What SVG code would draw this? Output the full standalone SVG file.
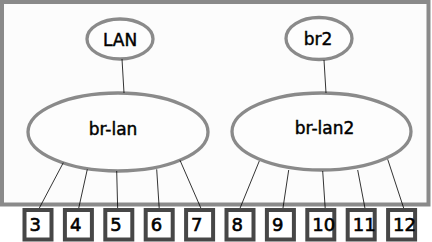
<svg xmlns="http://www.w3.org/2000/svg" width="432" height="242" viewBox="0 0 432 242">
<style>
.frame{fill:#fcfcfc;stroke:#8a8a8a;stroke-width:4}
.ell{fill:#fdfdfd;stroke:#8a8a8a;stroke-width:3.3}
.lbl{font-family:"DejaVu Sans",sans-serif;font-size:17px;fill:#000;stroke:#000;stroke-width:0.45;text-anchor:middle}
.port rect{fill:#fff;stroke:#474747;stroke-width:4}
.port text{font-family:"DejaVu Sans",sans-serif;font-size:18px;fill:#000;stroke:#000;stroke-width:0.6}
.conn line{stroke:#000;stroke-width:0.8}
</style>
<rect class="frame" x="2" y="2" width="426.5" height="202.5"/>
<g id="LAN"><ellipse class="ell" cx="120" cy="39" rx="33" ry="20"/><text class="lbl" x="120" y="46">LAN</text></g>
<g id="br2"><ellipse class="ell" cx="319" cy="38.5" rx="33" ry="21"/><text class="lbl" x="318" y="45">br2</text></g>
<g id="br-lan"><ellipse class="ell" cx="118" cy="132" rx="90" ry="39"/><text class="lbl" x="113" y="135">br-lan</text></g>
<g id="br-lan2"><ellipse class="ell" cx="321.5" cy="131.5" rx="89.5" ry="38.5"/><text class="lbl" x="324.5" y="134">br-lan2</text></g>
<g id="connectors" class="conn">
<line x1="122" y1="59" x2="124" y2="93"/>
<line x1="324" y1="60" x2="326" y2="93"/>
<line x1="63.3" y1="162.7" x2="38.3" y2="210"/>
<line x1="87.3" y1="169.3" x2="78.3" y2="210"/>
<line x1="116.7" y1="171" x2="117.7" y2="210"/>
<line x1="156.7" y1="169.3" x2="159.3" y2="210"/>
<line x1="180" y1="160.3" x2="201.7" y2="210"/>
<line x1="259.3" y1="161" x2="239.3" y2="210"/>
<line x1="288.7" y1="170" x2="282.7" y2="210"/>
<line x1="322.7" y1="171" x2="325.3" y2="210"/>
<line x1="357.7" y1="170" x2="365.3" y2="210"/>
<line x1="387.7" y1="159.3" x2="404.3" y2="210"/>
</g>
<g id="p3" class="port"><rect x="24.5" y="210" width="27" height="29.5"/><text x="29.5" y="230.5">3</text></g>
<g id="p4" class="port"><rect x="64.9" y="210" width="27" height="29.5"/><text x="69.9" y="230.5">4</text></g>
<g id="p5" class="port"><rect x="105.3" y="210" width="27" height="29.5"/><text x="110.3" y="230.5">5</text></g>
<g id="p6" class="port"><rect x="145.7" y="210" width="27" height="29.5"/><text x="150.7" y="230.5">6</text></g>
<g id="p7" class="port"><rect x="186.1" y="210" width="27" height="29.5"/><text x="191.1" y="230.5">7</text></g>
<g id="p8" class="port"><rect x="226.5" y="210" width="27" height="29.5"/><text x="231.5" y="230.5">8</text></g>
<g id="p9" class="port"><rect x="266.9" y="210" width="27" height="29.5"/><text x="271.9" y="230.5">9</text></g>
<g id="p10" class="port"><rect x="307.3" y="210" width="27" height="29.5"/><text x="312.3" y="230.5">10</text></g>
<g id="p11" class="port"><rect x="347.7" y="210" width="27" height="29.5"/><text x="352.7" y="230.5">11</text></g>
<g id="p12" class="port"><rect x="388.1" y="210" width="27" height="29.5"/><text x="393.1" y="230.5">12</text></g>
</svg>
